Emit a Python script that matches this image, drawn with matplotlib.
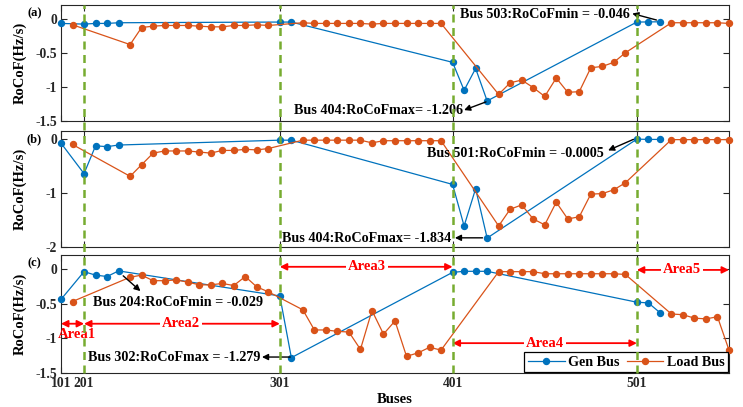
import matplotlib
matplotlib.use('Agg')
import matplotlib.pyplot as plt
from matplotlib.lines import Line2D
from matplotlib.transforms import blended_transform_factory

plt.rcParams['font.family'] = ['Liberation Serif', 'DejaVu Serif']
plt.rcParams['font.weight'] = 'bold'

# bus numbers (generator buses and load buses)
gen_buses = [101, 201, 202, 203, 204, 301, 302, 401, 402, 403, 404, 501, 502, 503]
load_buses = ([102]
              + list(range(205, 218))
              + list(range(303, 316))
              + list(range(405, 417))
              + list(range(504, 510)))

tick_buses = [101, 201, 301, 401, 501]
area_bounds = [201, 301, 401, 501]

# RoCoF values (Hz/s)
gen_a = [-0.07, -0.08, -0.07, -0.07, -0.06, -0.05, -0.05,
         -0.64, -1.05, -0.73, -1.206, -0.05, -0.048, -0.046]
load_a = [-0.09,
          -0.38, -0.13, -0.11, -0.10, -0.10, -0.10, -0.11, -0.12, -0.12, -0.10, -0.10, -0.09, -0.10,
          -0.06, -0.07, -0.07, -0.07, -0.07, -0.07, -0.08, -0.07, -0.07, -0.07, -0.07, -0.07, -0.07,
          -1.11, -0.94, -0.90, -1.01, -1.14, -0.87, -1.08, -1.07, -0.72, -0.70, -0.64, -0.50,
          -0.06, -0.06, -0.06, -0.06, -0.06, -0.07]

gen_b = [-0.075, -0.64, -0.125, -0.14, -0.11, -0.02, -0.02,
         -0.84, -1.61, -0.92, -1.834, -0.0005, -0.006, -0.006]
load_b = [-0.10,
          -0.69, -0.475, -0.26, -0.22, -0.22, -0.22, -0.24, -0.26, -0.21, -0.21, -0.19, -0.20, -0.175,
          -0.02, -0.02, -0.02, -0.02, -0.02, -0.02, -0.07, -0.03, -0.03, -0.03, -0.03, -0.03, -0.03,
          -1.61, -1.30, -1.22, -1.48, -1.59, -1.17, -1.48, -1.44, -1.02, -1.01, -0.94, -0.81,
          -0.01, -0.01, -0.01, -0.01, -0.01, -0.01]

gen_c = [-0.44, -0.04, -0.09, -0.11, -0.029, -0.39, -1.279,
         -0.05, -0.035, -0.035, -0.035, -0.48, -0.49, -0.63]
load_c = [-0.47,
          -0.12, -0.09, -0.17, -0.17, -0.16, -0.19, -0.23, -0.23, -0.21, -0.24, -0.11, -0.26, -0.33,
          -0.59, -0.88, -0.88, -0.90, -0.91, -1.16, -0.60, -0.94, -0.75, -1.26, -1.21, -1.13, -1.17,
          -0.04, -0.04, -0.04, -0.04, -0.07, -0.07, -0.07, -0.07, -0.07, -0.07, -0.07, -0.08,
          -0.65, -0.66, -0.71, -0.72, -0.69, -1.17]

# buses are plotted in order on an index axis
all_buses = sorted(gen_buses + load_buses)
pos = {b: i + 1 for i, b in enumerate(all_buses)}
gx = [pos[b] for b in gen_buses]
lx = [pos[b] for b in load_buses]

blue = '#0072BD'
orange = '#D95319'
green = '#77AC30'
spine = '#262626'

fig = plt.figure(figsize=(7.43, 4.07), dpi=100)
W, H = 743, 407


def box(l, t, r, b):
    return [l / W, 1 - b / H, (r - l) / W, (b - t) / H]


ax_a = fig.add_axes(box(61, 5, 729, 121))
ax_b = fig.add_axes(box(61, 131, 729, 247))
ax_c = fig.add_axes(box(61, 255, 729, 373))

panels = [(ax_a, gen_a, load_a, (-1.5, 0.2), [0, -0.5, -1, -1.5], ['0', '-0.5', '-1', '-1.5'], '(a)'),
          (ax_b, gen_b, load_b, (-2, 0.15), [0, -1, -2], ['0', '-1', '-2'], '(b)'),
          (ax_c, gen_c, load_c, (-1.5, 0.2), [0, -0.5, -1, -1.5], ['0', '-0.5', '-1', '-1.5'], '(c)')]

for ax, g, l, ylim, yt, ytl, lab in panels:
    ax.plot(gx, g, '-o', color=blue, lw=0.9, ms=4.3, label='Gen Bus', clip_on=False, zorder=3)
    ax.plot(lx, l, '-o', color=orange, lw=0.9, ms=4.3, label='Load Bus', clip_on=False, zorder=3)
    ax.set_xlim(1, len(all_buses))
    ax.set_ylim(*ylim)
    ax.set_yticks(yt)
    ax.set_yticklabels(ytl)
    ax.set_xticks([pos[b] for b in tick_buses])
    ax.tick_params(direction='in', top=True, right=True, length=4, width=0.8,
                   labelsize=9.8, colors=spine, labelcolor='#262626', pad=3)
    for s in ax.spines.values():
        s.set_color(spine)
        s.set_linewidth(0.8)
    ax.set_ylabel('RoCoF(Hz/s)', fontsize=10.5, fontweight='bold')
    ax.yaxis.set_label_coords(-0.051, 0.5)
    ax.text(-0.040, 0.93, lab, transform=ax.transAxes, fontsize=9, fontweight='bold',
            ha='center', va='center')

ax_a.set_xticklabels([])
ax_b.set_xticklabels([])
ax_c.set_xticklabels([str(b) for b in tick_buses])
ax_c.set_xlabel('Buses', fontsize=10.5, fontweight='bold', labelpad=2)

afs = 10.2
arr = dict(arrowstyle='-|>', color='black', lw=1.0, mutation_scale=9, shrinkA=0, shrinkB=0)

# panel (a) annotations
ax_a.text(50.4, 0.066, 'Bus 503:RoCoFmin = -0.046', ha='right', va='center', fontsize=afs, fontweight='bold')
ax_a.annotate('', xy=(50.6, 0.075), xytext=(52.7, -0.02), arrowprops=arr, annotation_clip=False)
ax_a.text(35.9, -1.35, 'Bus 404:RoCoFmax= -1.206', ha='right', va='center', fontsize=afs, fontweight='bold')
ax_a.annotate('', xy=(36.0, -1.34), xytext=(37.9, -1.22), arrowprops=arr)

# panel (b) annotations
ax_b.text(48.1, -0.26, 'Bus 501:RoCoFmin = -0.0005', ha='right', va='center', fontsize=afs, fontweight='bold')
ax_b.annotate('', xy=(48.5, -0.21), xytext=(50.7, -0.005), arrowprops=arr)
ax_b.text(34.9, -1.84, 'Bus 404:RoCoFmax= -1.834', ha='right', va='center', fontsize=afs, fontweight='bold')
ax_b.annotate('', xy=(35.2, -1.83), xytext=(37.6, -1.83), arrowprops=arr)

# panel (c) annotations
ax_c.text(11.2, -0.48, 'Bus 204:RoCoFmin = -0.029', ha='center', va='center', fontsize=afs, fontweight='bold')
ax_c.annotate('', xy=(7.9, -0.32), xytext=(6.4, -0.10), arrowprops=arr)
ax_c.text(18.3, -1.27, 'Bus 302:RoCoFmax = -1.279', ha='right', va='center', fontsize=afs, fontweight='bold')
ax_c.annotate('', xy=(18.45, -1.27), xytext=(20.9, -1.27), arrowprops=arr)

# area arrows
red_arr = dict(arrowstyle='<|-|>', color='red', lw=1.3, mutation_scale=10, shrinkA=0, shrinkB=0)
areas = [('Area1', 101, 201, -0.79, 2.35, -0.95),
         ('Area2', 201, 301, -0.79, 11.4, -0.79),
         ('Area3', 301, 401, 0.03, 27.6, 0.03),
         ('Area4', 401, 501, -1.07, 43.0, -1.07),
         ('Area5', 501, None, -0.015, 54.9, -0.015)]
for name, b0, b1, yy, tx, ty in areas:
    x0 = pos[b0]
    x1 = pos[b1] if b1 is not None else len(all_buses)
    ax_c.annotate('', xy=(x0, yy), xytext=(x1, yy), arrowprops=red_arr, annotation_clip=False)
    bb = None if name == 'Area1' else dict(facecolor='white', edgecolor='none', pad=1.5)
    ax_c.text(tx, ty, name, color='red', fontsize=10.5, fontweight='bold', ha='center', va='center',
              bbox=bb, zorder=4)

leg = ax_c.legend(loc='lower right', ncol=2, fontsize=10.2, frameon=True, fancybox=False,
                  edgecolor='black', borderaxespad=0.05, handlelength=2.6, columnspacing=0.5,
                  handletextpad=0.25, borderpad=0.25, framealpha=1)
leg.get_frame().set_linewidth(0.9)
leg.set_zorder(5)

# dashed area boundaries across all panels
tr = blended_transform_factory(ax_c.transData, fig.transFigure)
for b in area_bounds:
    ln = Line2D([pos[b], pos[b]], [1 - 373 / H, 1 - 5 / H], transform=tr, color=green,
                lw=1.8, linestyle=(0, (3.2, 2.2)), zorder=10)
    fig.add_artist(ln)

fig.savefig('out.png', dpi=100)
